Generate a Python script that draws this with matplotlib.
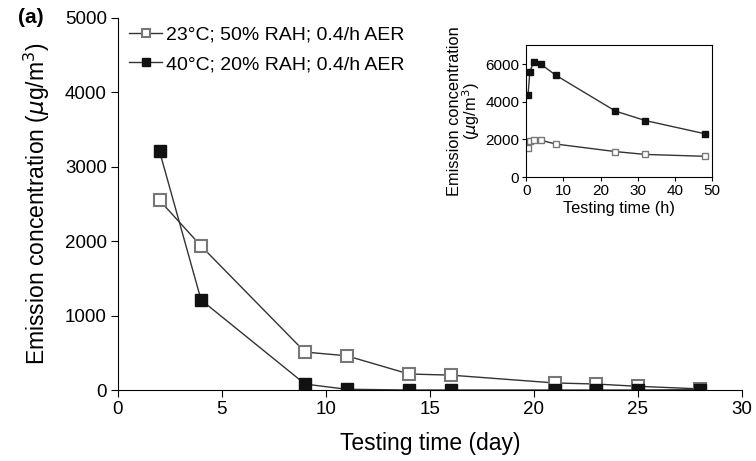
import matplotlib.pyplot as plt

plt.rcParams["font.family"] = ["Liberation Sans", "DejaVu Sans"]

# main panel: concentration over days
days = [2, 4, 9, 11, 14, 16, 21, 23, 25, 28]
low_temp = [2550, 1935, 510, 460, 215, 200, 95, 80, 50, 15]
high_temp = [3210, 1210, 80, 10, 0, 0, 0, 0, 0, 5]

# inset: first 48 hours
hours = [0.5, 1, 2, 4, 8, 24, 32, 48]
low_temp_h = [1550, 1900, 1950, 1950, 1750, 1350, 1200, 1100]
high_temp_h = [4350, 5600, 6100, 5980, 5400, 3500, 3000, 2300]

labels = ["23\u00b0C; 50% RAH; 0.4/h AER", "40\u00b0C; 20% RAH; 0.4/h AER"]

fig = plt.figure(figsize=(7.56, 4.61), dpi=100)
ax = fig.add_axes([0.156, 0.154, 0.825, 0.807])

line_c = "#333333"
ax.plot(days, low_temp, "-s", color=line_c, lw=1, ms=9, mfc="white",
        mec="#777777", mew=1.5, label=labels[0])
ax.plot(days, high_temp, "-s", color=line_c, lw=1, ms=9, mfc="#111111",
        mec="#111111", label=labels[1])
ax.set_xlim(0, 30)
ax.set_ylim(0, 5000)
ax.set_xticks(range(0, 31, 5))
ax.set_yticks(range(0, 5001, 1000))
for s in ("top", "right"):
    ax.spines[s].set_visible(False)
ax.tick_params(direction="out", labelsize=13.5, length=5, pad=3)
ax.set_xlabel("Testing time (day)", fontsize=16.5, labelpad=10)
ax.set_ylabel("Emission concentration ($\\mu$g/m$^3$)", fontsize=16.5,
              labelpad=9)
ax.legend(loc="upper left", bbox_to_anchor=(-0.01, 1.025), frameon=False,
          fontsize=14, handlelength=1.7, handletextpad=0.2, labelspacing=0.6,
          markerscale=0.65)
fig.text(0.024, 0.963, "(a)", fontsize=15, fontweight="bold", va="center")

ins = fig.add_axes([0.696, 0.616, 0.246, 0.286])
ins.plot(hours, low_temp_h, "-s", color=line_c, lw=1, ms=4, mfc="white",
         mec="#777777", mew=1)
ins.plot(hours, high_temp_h, "-s", color=line_c, lw=1, ms=5, mfc="#111111",
         mec="#111111")
ins.set_xlim(0, 50)
ins.set_ylim(0, 7000)
ins.set_xticks(range(0, 51, 10))
ins.set_yticks(range(0, 6001, 2000))
ins.tick_params(direction="out", labelsize=11, length=3, pad=2)
ins.set_xlabel("Testing time (h)", fontsize=11.8, labelpad=2)
ins.set_ylabel("Emission concentration\n($\\mu$g/m$^3$)", fontsize=11.8,
               labelpad=2, linespacing=0.9)

fig.savefig("out.png", dpi=100)
